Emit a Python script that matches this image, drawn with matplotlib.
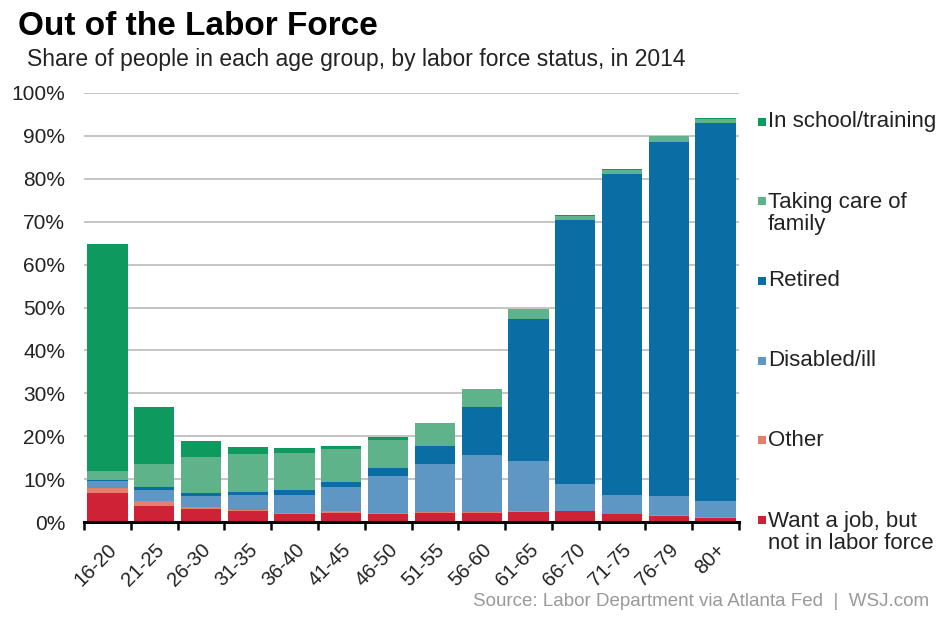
import matplotlib.pyplot as plt
from matplotlib.patches import Rectangle
import numpy as np

plt.rcParams['font.family'] = ['Liberation Sans', 'DejaVu Sans']

# Share of each age group out of the labor force, by reason (percent), 2014
age_groups = ['16-20', '21-25', '26-30', '31-35', '36-40', '41-45', '46-50',
              '51-55', '56-60', '61-65', '66-70', '71-75', '76-79', '80+']
want_job = [6.7, 3.8, 3.0, 2.5, 1.9, 2.1, 1.9, 2.1, 2.1, 2.3, 2.5, 1.8, 1.5, 1.0]
other = [1.2, 1.0, 0.4, 0.3, 0.2, 0.4, 0.3, 0.3, 0.3, 0.2, 0.1, 0.1, 0.1, 0.1]
disabled = [1.7, 2.7, 2.7, 3.6, 4.3, 5.7, 8.6, 11.1, 13.2, 11.7, 6.2, 4.5, 4.4, 3.7]
retired = [0.1, 0.6, 0.7, 0.6, 1.0, 1.1, 1.7, 4.1, 11.3, 33.1, 61.5, 74.8, 82.5, 88.2]
family = [2.1, 5.4, 8.3, 8.9, 8.7, 7.8, 6.7, 5.4, 4.0, 2.3, 1.1, 0.9, 1.4, 1.0]
school = [53.0, 13.4, 3.8, 1.5, 1.2, 0.7, 0.6, 0.1, 0.1, 0.1, 0.1, 0.1, 0.1, 0.1]

# bottom-to-top stacking order
series = [
    ('Want a job, but\nnot in labor force', want_job, '#cf2237'),
    ('Other', other, '#e47f6c'),
    ('Disabled/ill', disabled, '#5e97c3'),
    ('Retired', retired, '#0a6ea4'),
    ('Taking care of\nfamily', family, '#5fb38b'),
    ('In school/training', school, '#0e9a5f'),
]

W, H = 943, 621
fig = plt.figure(figsize=(W / 100, H / 100), dpi=100)
ax = fig.add_axes([84 / W, 1 - 522 / H, 655 / W, 429 / H])

x = np.arange(len(age_groups))
bottom = np.zeros(len(age_groups))
for label, vals, color in series:
    ax.bar(x, vals, width=0.86, bottom=bottom, color=color, linewidth=0, zorder=2)
    bottom += np.array(vals)

ax.set_xlim(-0.5, len(age_groups) - 0.5)
ax.set_ylim(0, 100)
ax.set_yticks(range(0, 101, 10))
ax.set_yticklabels([f'{v}%' for v in range(0, 101, 10)], fontsize=15, color='#222222')
ax.tick_params(axis='y', length=0, pad=13.5)
for v in range(10, 101, 10):
    ax.axhline(v, color='#c4c4c4', linewidth=1.4, zorder=1)

# category boundary ticks on the baseline
ax.set_xticks(np.arange(-0.5, len(age_groups), 1.0))
ax.set_xticklabels([])
ax.tick_params(axis='x', length=6, width=1.8, color='black', direction='out')
ax.set_xticks(x, minor=True)
ax.set_xticklabels(age_groups, minor=True, rotation=45, ha='right',
                   rotation_mode='anchor', fontsize=14.5, color='#222222')
ax.tick_params(axis='x', which='minor', length=0, pad=13)

for side in ['top', 'right', 'left']:
    ax.spines[side].set_visible(False)
ax.spines['bottom'].set_linewidth(2.2)
ax.spines['bottom'].set_zorder(3)

fig.text(18 / W, 1 - 35 / H, 'Out of the Labor Force', fontsize=24, fontweight='bold',
         color='black', va='baseline')
fig.text(27 / W, 1 - 66 / H, 'Share of people in each age group, by labor force status, in 2014',
         fontsize=16.5, color='#222222', va='baseline')

# legend entries down the right side; the square sits beside the first line
legend_y = [122, 201, 281, 361, 440, 520]
line_px = 25
for (label, vals, color), ypix in zip(series[::-1], legend_y):
    n_lines = label.count('\n') + 1
    yf = 1 - ypix / H
    fig.add_artist(Rectangle((758 / W, yf - 4 / H), 8 / W, 8 / H,
                             transform=fig.transFigure, color=color, linewidth=0))
    yc = ypix + (n_lines - 1) * line_px / 2
    fig.text(768 / W, 1 - yc / H, label, fontsize=16, color='#222222',
             va='center', linespacing=1.12)

fig.text(929 / W, 1 - 602 / H, 'Source: Labor Department via Atlanta Fed  |  WSJ.com',
         fontsize=13.5, color='#999999', ha='right', va='center')

fig.savefig('out.png', dpi=100)
